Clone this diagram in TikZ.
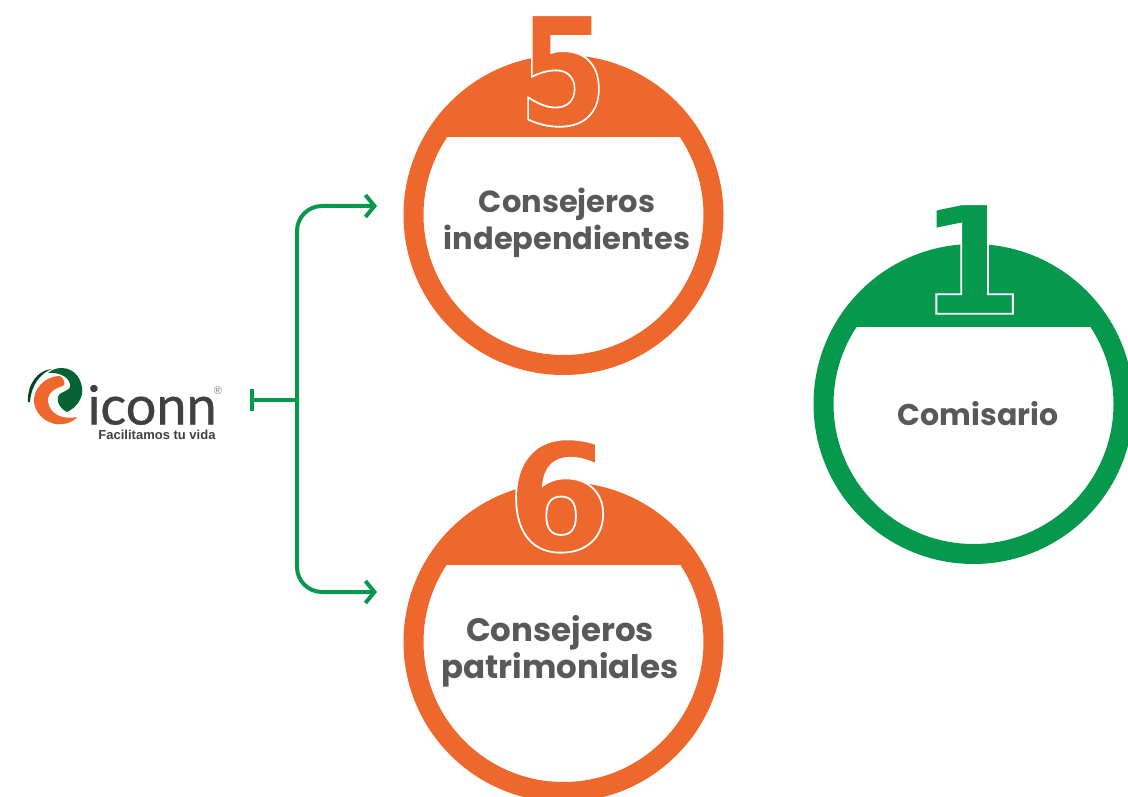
\documentclass[tikz,border=0pt]{standalone}
\usepackage{fontspec}
\setmainfont{Poppins}
\font\digitfont="DejaVu Sans/B:embolden=1.2" at 150pt
\newfontfamily\logofont[FakeBold=0.7]{Lato}
\newfontfamily\tagfont{Liberation Sans}
\usetikzlibrary{arrows.meta}
\definecolor{naranja}{HTML}{EE672D}
\definecolor{verde}{HTML}{06994D}
\definecolor{gris}{HTML}{58595B}
\tikzset{
  ring/.style={circle,draw=#1,line width=20pt,minimum size=300pt,inner sep=0pt},
  label/.style={font=\fontsize{#1}{37}\selectfont\bfseries,text=gris,align=center},
  numero/.style={font=\digitfont,inner sep=0pt},
  conector/.style={draw=verde,line width=4pt,rounded corners=25pt},
}
% outline of the digit stays white whatever its fill
\newcommand{\blanco}{\special{pdf:code 1 1 1 RG}}
\newcommand{\tapa}[3]{\begin{scope}
    \clip ([shift={(-160,-160)}]#1) rectangle ([shift={(160,-78)}]#1);
    \fill[#2] (#1) circle [radius=#3];
  \end{scope}}
\begin{document}
\begin{tikzpicture}[x=1pt,y=-1pt]
    \useasboundingbox (0,0) rectangle (1128,797);
    \clip (0,0) rectangle (1128,797);

    \node[ring=naranja] (cinco) at (563.5,215) {};
    \node[ring=naranja] (seis) at (563.5,642) {};
    \node[ring=verde] (uno) at (973.5,404) {};
    \tapa{cinco}{naranja}{150}
    \tapa{seis}{naranja}{150}
    \tapa{uno}{verde}{150}

    \node[numero,text=naranja,xscale=.86,transform shape] (n5) at (563,71) {\blanco 5};
    \node[numero,text=naranja] (n6) at (559,496) {\blanco 6};
    \node[numero,text=verde] (n1) at (971,259) {\blanco 1};

    \node[label=30.5] (independientes) at (567,223) {Consejeros\\independientes};
    \node[label=32.5] (patrimoniales) at (560,651) {Consejeros\\patrimoniales};
    \node[label=30] (comisario) at (978,414) {Comisario};

    % logo
    \fill[verde!45!black] (28,402) .. controls (27,384) and (38,370) .. (52,369) .. controls (40,373) and (31,386) .. (30,402);
    \fill[verde!65!black] (48,373) .. controls (58,364) and (78,366) .. (82,387) .. controls (84,398) and (76,408) .. (67,412) .. controls (62,410) and (56,403) .. (58,397) .. controls (60,390) and (72,392) .. (70,384) .. controls (68,376) and (58,372) .. (48,373);
    \fill[naranja] (60,376) .. controls (44,376) and (33,390) .. (34,402) .. controls (36,418) and (52,426) .. (62,424) .. controls (68,424) and (74,421) .. (77,417) .. controls (62,420) and (50,414) .. (48,402) .. controls (47,392) and (56,388) .. (63,386) .. controls (66,384) and (64,378) .. (60,376);
    \node[font=\logofont\fontsize{54}{54}\selectfont,text=black!75,inner sep=0pt] (iconn) at (152,405) {iconn};
    \node[font=\tagfont\bfseries\fontsize{13}{13}\selectfont,text=black!75,inner sep=0pt] (lema) at (157,435) {Facilitamos tu vida};
    \node[font=\tagfont\fontsize{11}{11}\selectfont,text=black!50,inner sep=0pt] (marca) at (218,391) {\textregistered};

    % connectors
    \coordinate (tope) at (252,400);
    \coordinate (nudo) at (297,400);
    \coordinate (flechaA) at (377,206);
    \coordinate (flechaB) at (377,592);
    \draw[verde,line width=4pt] (252,389) -- (252,411);
    \draw[verde,line width=4pt] (tope) -- (nudo);
    \draw[conector,-{Straight Barb[length=9pt,width=22pt]}] (nudo) -- (297,206) -- (flechaA);
    \draw[conector,-{Straight Barb[length=9pt,width=22pt]}] (nudo) -- (297,592) -- (flechaB);
\end{tikzpicture}
\end{document}
